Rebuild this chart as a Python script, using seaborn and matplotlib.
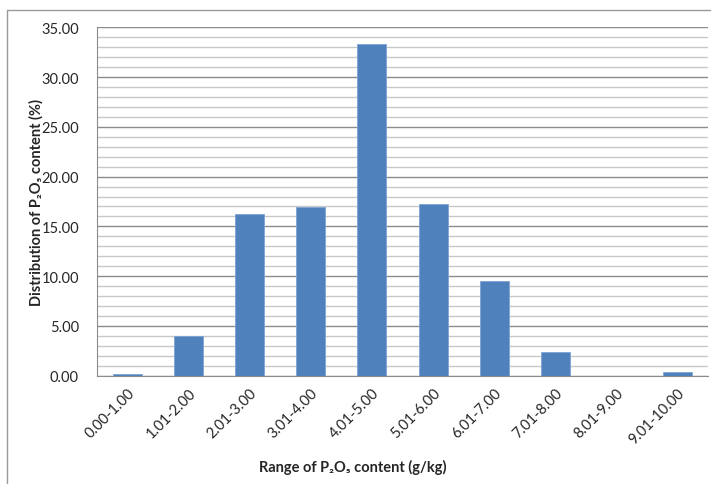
import matplotlib
matplotlib.use("Agg")
import matplotlib.pyplot as plt
from matplotlib.lines import Line2D
from matplotlib.ticker import MultipleLocator, FormatStrFormatter
import seaborn as sns
import pandas as pd

# data
ranges = ["0.00-1.00", "1.01-2.00", "2.01-3.00", "3.01-4.00", "4.01-5.00",
          "5.01-6.00", "6.01-7.00", "7.01-8.00", "8.01-9.00", "9.01-10.00"]
percent = [0.15, 4.0, 16.2, 16.9, 33.3, 17.2, 9.5, 2.4, 0.0, 0.35]

df = pd.DataFrame({"range": ranges, "percent": percent})

sns.set_style("white")
plt.rcParams["font.family"] = ["Lato", "DejaVu Sans"]

fig = plt.figure(figsize=(7.11, 4.85), dpi=100)
ax = fig.add_axes([0.1364, 0.2233, 0.8594, 0.7183])

sns.barplot(data=df, x="range", y="percent", color="#4F81BD", saturation=1,
            width=0.476, edgecolor="#7FA3D3", linewidth=0.6, ax=ax, zorder=3)

ax.set_ylim(0, 35)
ax.set_xlim(-0.5, len(ranges) - 0.5)
ax.yaxis.set_major_locator(MultipleLocator(5))
ax.yaxis.set_minor_locator(MultipleLocator(1))
ax.yaxis.set_major_formatter(FormatStrFormatter("%.2f"))
ax.grid(which="major", axis="y", color="#8c8c8c", linewidth=1.0, zorder=0)
ax.grid(which="minor", axis="y", color="#c8c8c8", linewidth=1.0, zorder=0)
ax.set_axisbelow(True)

for s in ["top", "right"]:
    ax.spines[s].set_visible(False)
ax.spines["left"].set_color("#8c8c8c")
ax.spines["bottom"].set_color("#8c8c8c")

ax.tick_params(axis="y", which="major", length=4, color="#8c8c8c", labelsize=10.5, pad=9)
ax.tick_params(axis="y", which="minor", length=0)
ax.tick_params(axis="x", length=0, labelsize=10.5, pad=7)
plt.setp(ax.get_xticklabels(), rotation=45, ha="right", rotation_mode="anchor")

ax.set_xlabel("Range of P\u2082O\u2085 content (g/kg)", fontsize=10.5, fontweight="bold")
ax.xaxis.set_label_coords(0.419, -0.24)
ax.set_ylabel("Distribution of P\u2082O\u2085 content (%)", fontsize=10.5, fontweight="bold")
ax.yaxis.set_label_coords(-0.087, 0.5)

# outer chart frame
fig.add_artist(Line2D([7 / 711, 7 / 711], [0, 1 - 11 / 485], transform=fig.transFigure,
                      color="#9a9a9a", linewidth=1.0))
fig.add_artist(Line2D([7 / 711, 1], [1 - 11 / 485, 1 - 11 / 485], transform=fig.transFigure,
                      color="#9a9a9a", linewidth=1.0))

fig.savefig("out.png", dpi=100)
